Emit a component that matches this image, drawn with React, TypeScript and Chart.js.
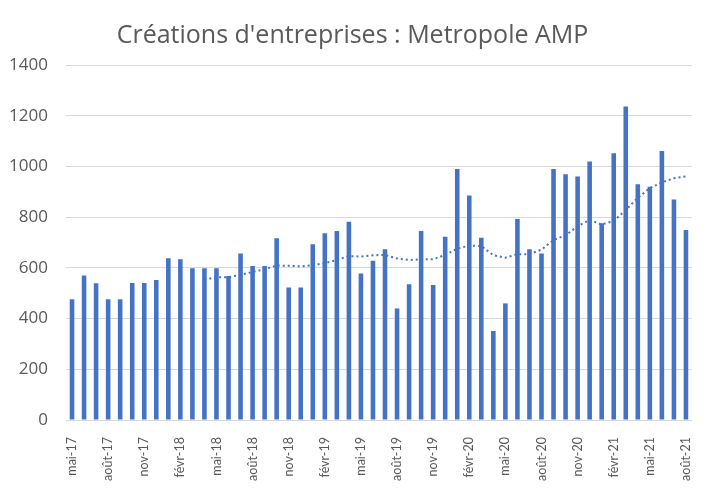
import { useEffect, useRef } from "react";
import { Chart, registerables } from "chart.js";

Chart.register(...registerables);

// Monthly labels, May 2017 – August 2021
const months: string[] = [
  "mai-17", "juin-17", "juil-17", "août-17", "sept-17", "oct-17", "nov-17", "déc-17",
  "janv-18", "févr-18", "mars-18", "avr-18", "mai-18", "juin-18", "juil-18", "août-18",
  "sept-18", "oct-18", "nov-18", "déc-18",
  "janv-19", "févr-19", "mars-19", "avr-19", "mai-19", "juin-19", "juil-19", "août-19",
  "sept-19", "oct-19", "nov-19", "déc-19",
  "janv-20", "févr-20", "mars-20", "avr-20", "mai-20", "juin-20", "juil-20", "août-20",
  "sept-20", "oct-20", "nov-20", "déc-20",
  "janv-21", "févr-21", "mars-21", "avr-21", "mai-21", "juin-21", "juil-21", "août-21",
];

// Company creations per month
const creations: number[] = [
  476, 570, 539, 476, 476, 540, 540, 552,
  638, 634, 598, 598, 598, 568, 657, 607, 607, 717, 523, 523,
  693, 736, 745, 782, 578, 628, 673, 440, 535, 745, 532, 723,
  990, 885, 719, 351, 460, 793, 673, 657, 990, 969, 960, 1019,
  776, 1052, 1236, 930, 920, 1061, 870, 749,
];

const yTicks: number[] = [0, 200, 400, 600, 800, 1000, 1200, 1400];

// Trend line: 12-month moving average
const maPeriod = 12;
const movingAverage: (number | null)[] = creations.map((_, i) => {
  if (i < maPeriod - 1) return null;
  let s = 0;
  for (let k = i - maPeriod + 1; k <= i; k++) s += creations[k];
  return s / maPeriod;
});

const BLUE = "#4472C4";
const TEXT = "#595959";
const GRID = "#d9d9d9";

export default function App() {
  const canvasRef = useRef<HTMLCanvasElement | null>(null);

  useEffect(() => {
    if (!canvasRef.current) return;
    const chart = new Chart(canvasRef.current, {
      type: "bar",
      data: {
        labels: months,
        datasets: [
          {
            type: "line",
            label: "Moyenne mobile",
            data: movingAverage,
            borderColor: BLUE,
            borderWidth: 2,
            borderDash: [2, 3],
            pointRadius: 0,
            fill: false,
            tension: 0,
            order: 0,
          },
          {
            type: "bar",
            label: "Créations",
            data: creations,
            backgroundColor: BLUE,
            categoryPercentage: 1,
            barPercentage: 0.38,
            order: 1,
          },
        ],
      },
      options: {
        animation: false,
        responsive: true,
        maintainAspectRatio: false,
        layout: { padding: { left: 0, right: 5, top: 0, bottom: 0 } },
        plugins: {
          legend: { display: false },
          tooltip: { enabled: false },
          title: {
            display: true,
            text: "Créations d'entreprises : Metropole AMP",
            color: TEXT,
            font: { family: "Open Sans", size: 25, weight: "normal", lineHeight: 1.2 },
            padding: { top: 21, bottom: 14 },
          },
        },
        scales: {
          x: {
            grid: { display: false },
            border: { color: GRID },
            ticks: {
              autoSkip: false,
              maxRotation: 90,
              minRotation: 90,
              padding: 9,
              color: TEXT,
              font: { family: "Lato", size: 12.5 },
              callback: function (this: any, value: any, index: number) {
                return index % 3 === 0 ? months[index] : null;
              },
            },
            afterFit: (scale: any) => {
              scale.height = 79;
            },
          },
          y: {
            min: 0,
            max: 1400,
            afterBuildTicks: (scale: any) => {
              scale.ticks = yTicks.map((v) => ({ value: v }));
            },
            grid: { color: GRID, drawTicks: false },
            border: { display: false },
            ticks: {
              padding: 18,
              color: TEXT,
              font: { family: "Open Sans", size: 17 },
              callback: (v: any) => String(v),
            },
            afterFit: (scale: any) => {
              scale.width = 66;
            },
          },
        },
      },
    });
    return () => chart.destroy();
  }, []);

  return (
    <div style={{ position: "fixed", left: 0, top: 0, width: 710, height: 499, background: "#fff" }}>
      <canvas ref={canvasRef} />
    </div>
  );
}
